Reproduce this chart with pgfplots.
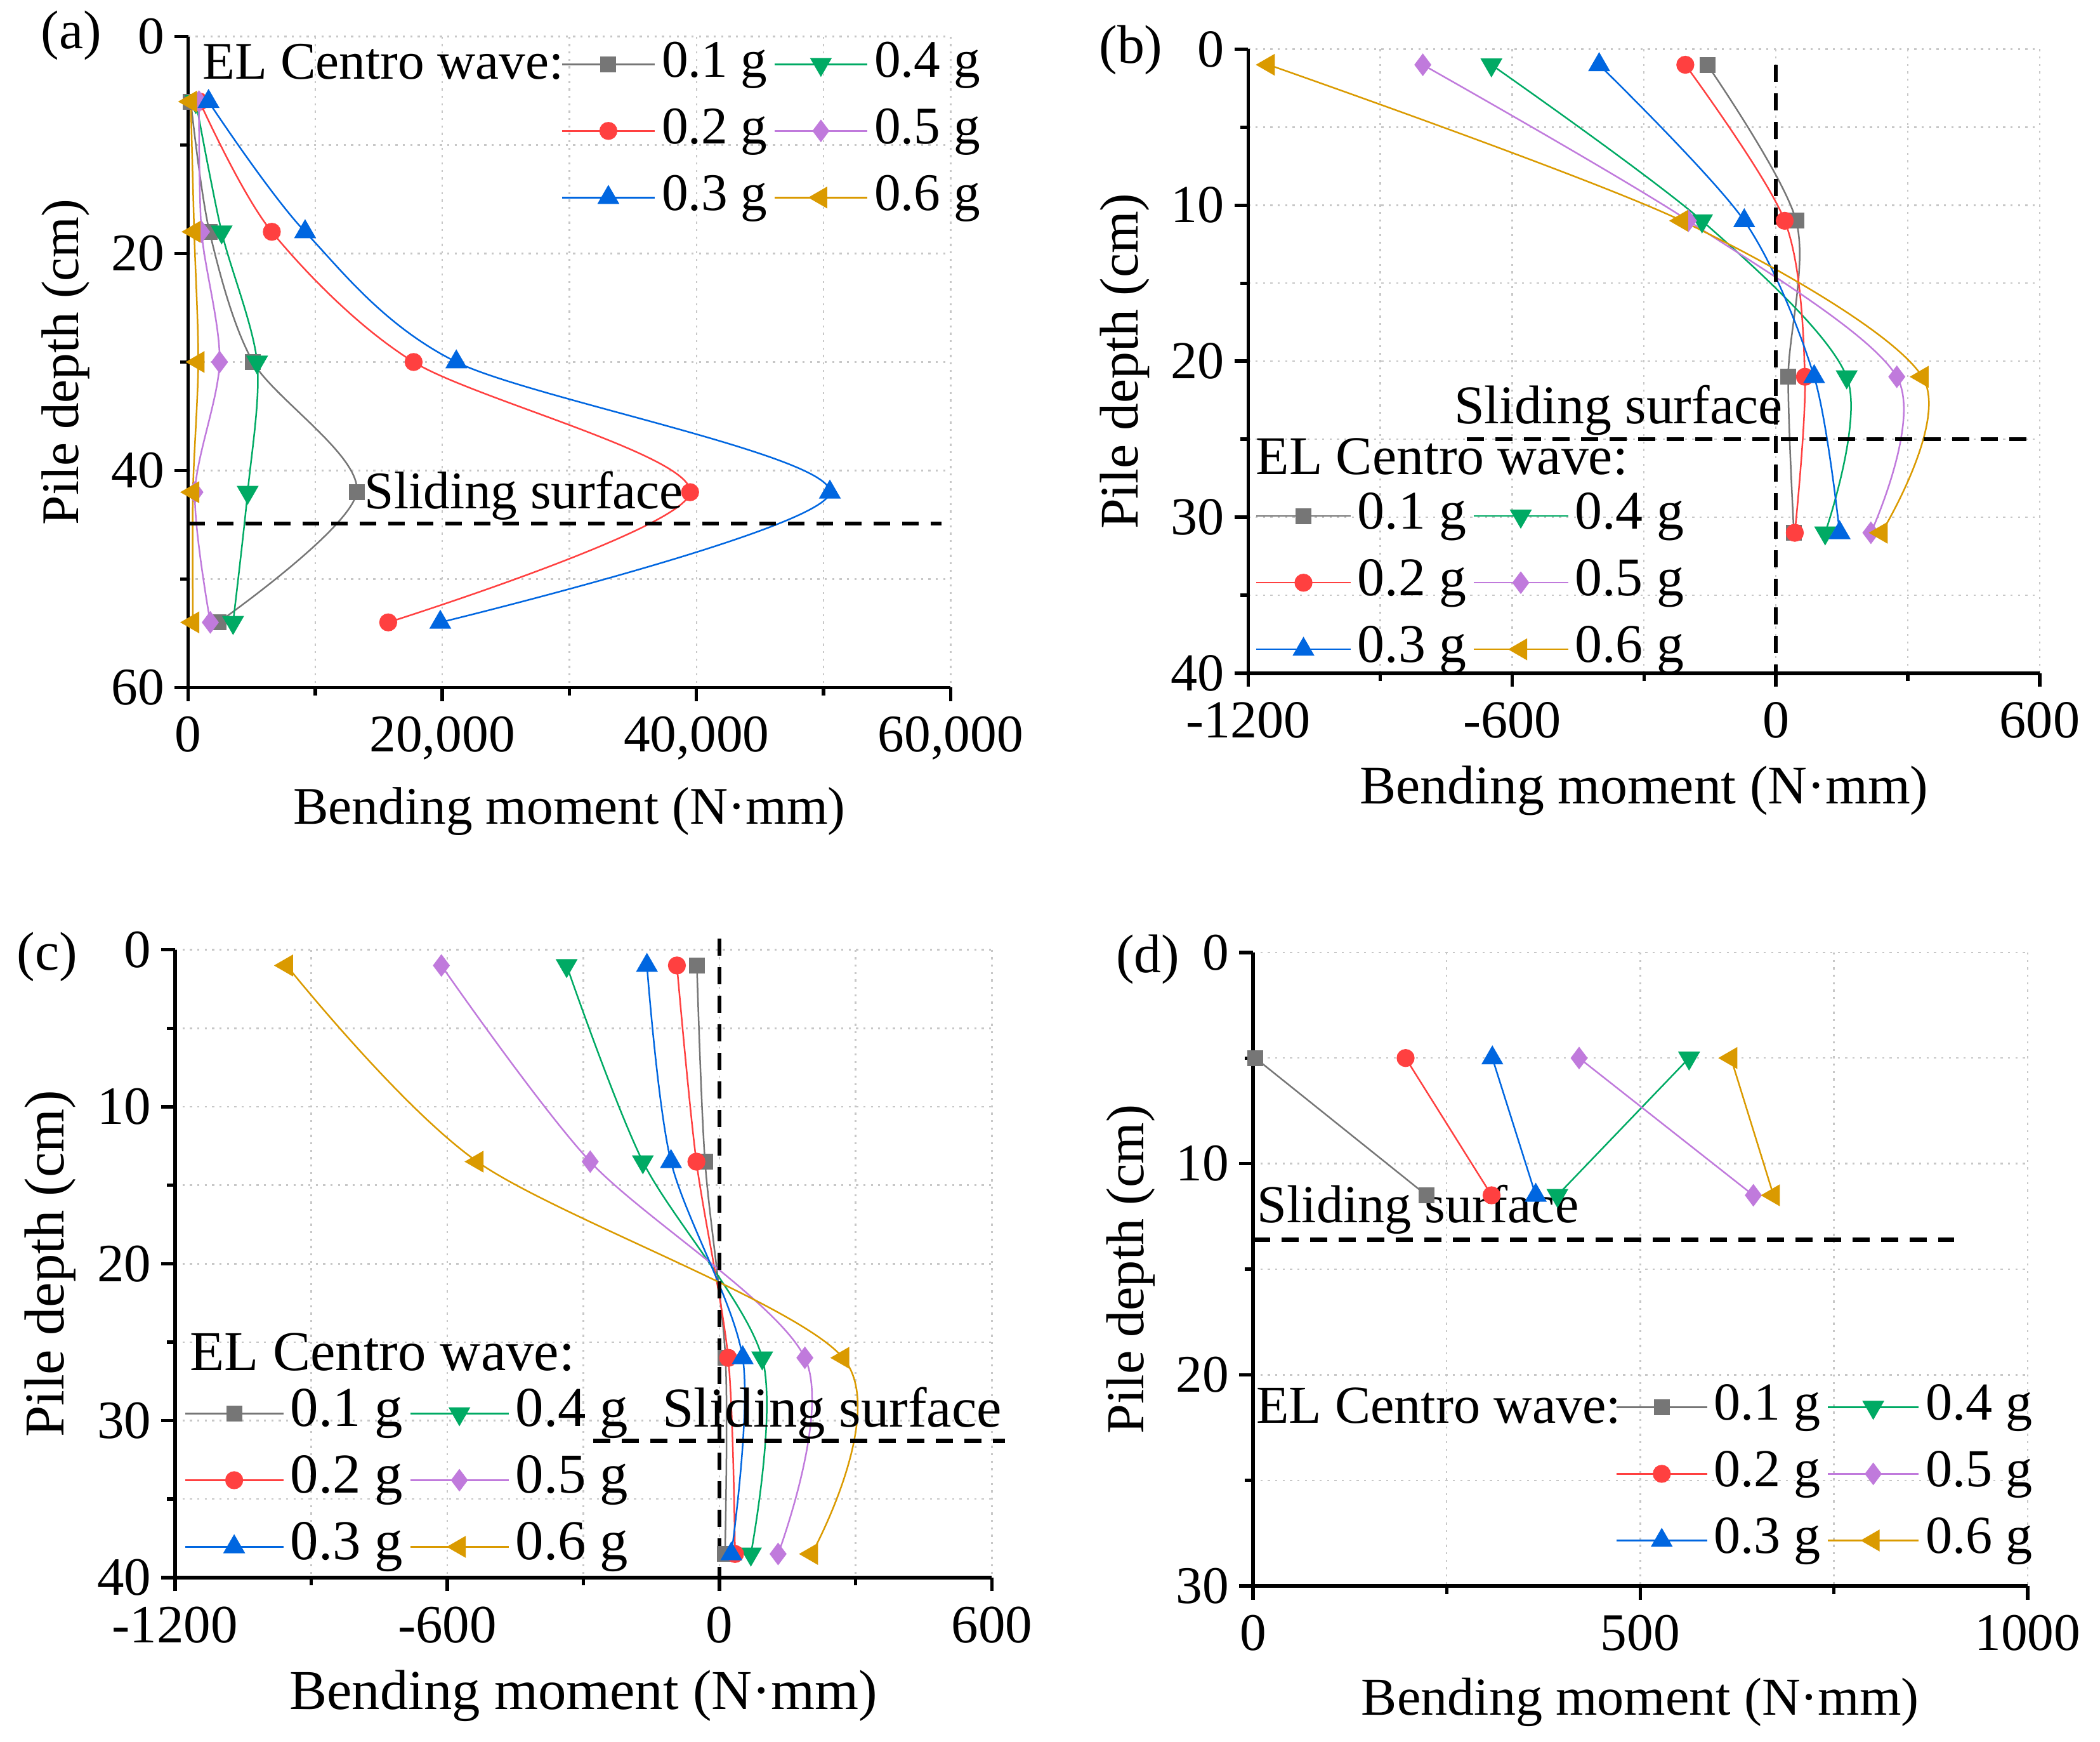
\documentclass[border=0pt]{standalone}
\usepackage{fontspec}
\setmainfont{Liberation Serif}
\usepackage{pgfplots}
\pgfplotsset{compat=1.18}
\definecolor{cA}{RGB}{118,118,118}
\definecolor{cB}{RGB}{255,64,64}
\definecolor{cC}{RGB}{0,102,224}
\definecolor{cD}{RGB}{0,170,100}
\definecolor{cE}{RGB}{192,122,220}
\definecolor{cF}{RGB}{218,154,0}
\def\fs{\fontsize{10}{12}\selectfont}
\def\tfs{\fontsize{10}{12}\selectfont}
\def\ll{17.5pt}
\pgfplotsset{
  panel/.style={
    scale only axis, y dir=reverse,
    axis x line=bottom, axis y line=left,
    axis line style={line width=0.65pt,-},
    tick align=outside,
    major tick length=2.6pt, minor tick length=1.5pt,
    every tick/.style={line width=0.65pt, black},
    grid=both,
    major grid style={densely dotted, line width=0.3pt, black!22},
    minor grid style={densely dotted, line width=0.3pt, black!22},
    /pgf/number format/assume math mode=true,
    tick label style={font=\tfs},
    xticklabel style={yshift=0.6pt},
    yticklabel style={xshift=1.6pt},
    label style={font=\fs},
    xlabel shift=-1.7pt,
    ylabel shift=-2.8pt,
    xlabel={Bending moment (N·mm)},
    ylabel={Pile depth (cm)},
    clip=false,
    legend columns=2,
    legend cell align=left,
    legend style={draw=none, fill=none, inner sep=0pt, row sep=2.4pt,
      font=\fs,
      nodes={inner xsep=1.2pt, inner ysep=0.5pt, text height=7pt, text depth=2.2pt}},
    legend image code/.code={\draw[mark repeat=2,mark phase=2,##1] plot coordinates {(0pt,0pt) (0.5*\ll,0pt) (\ll,0pt)};},
  },
  sA/.style={color=cA, line width=0.3pt, mark=square*, mark size=1.35pt, mark options={solid}},
  sB/.style={color=cB, line width=0.3pt, mark=*, mark size=1.55pt, mark options={solid}},
  sC/.style={color=cC, line width=0.3pt, mark=triangle*, mark size=2.1pt, mark options={solid}},
  sD/.style={color=cD, line width=0.3pt, mark=triangle*, mark size=2.1pt, mark options={solid, rotate=180}},
  sE/.style={color=cE, line width=0.3pt, mark=diamond*, mark size=1.9pt, mark options={solid}},
  sF/.style={color=cF, line width=0.3pt, mark=triangle*, mark size=2.1pt, mark options={solid, rotate=90}},
  slide/.style={black, line width=0.8pt, dash pattern=on 3.2pt off 2.2pt, forget plot},
}
\begin{document}
\begin{tikzpicture}
\useasboundingbox (0,0) rectangle (397.2pt,329.3pt);
% ---------------- (a)
\begin{axis}[panel, at={(35.6pt,199.3pt)}, anchor=south west,
  width=144.2pt, height=123.1pt,
  xmin=0, xmax=60000, ymin=0, ymax=60,
  xtick={0,20000,40000,60000}, minor xtick={10000,30000,50000},
  ytick={0,20,40,60}, minor ytick={10,30,50},
  scaled x ticks=false,
  xticklabel style={/pgf/number format/1000 sep={,}},
  legend style={at={(axis description cs:0.488,0.855)}, anchor=west}]
\addplot[sA, smooth] coordinates {(200,6) (1680,18) (5100,30) (13260,42) (2370,54)};
\addlegendentry{0.1 g}
\addplot[sD, smooth] coordinates {(600,6) (2630,18) (5420,30) (4680,42) (3530,54)};
\addlegendentry{0.4 g}
\addplot[sB, smooth] coordinates {(900,6) (6580,18) (17740,30) (39500,42) (15740,54)};
\addlegendentry{0.2 g}
\addplot[sE, smooth] coordinates {(850,6) (1050,18) (2470,30) (530,42) (1740,54)};
\addlegendentry{0.5 g}
\addplot[sC, smooth] coordinates {(1600,6) (9200,18) (21100,30) (50500,42) (19840,54)};
\addlegendentry{0.3 g}
\addplot[sF, smooth] coordinates {(200,6) (470,18) (790,30) (370,42) (370,54)};
\addlegendentry{0.6 g}
\addplot[slide] coordinates {(0,44.9) (59300,44.9)};
\node[anchor=base west, inner sep=0pt, font=\fs] at (axis cs:13800,43.5) {Sliding surface};
\node[anchor=base west, inner sep=0pt, font=\fs] at (axis cs:1050,3.9) {EL Centro wave:};
\end{axis}
% ---------------- (b)
\def\fs{\fontsize{10.3}{12}\selectfont}
\def\tfs{\fontsize{10.1}{12}\selectfont}
\def\ll{17.8pt}
\begin{axis}[panel, at={(236.1pt,202.0pt)}, anchor=south west,
  width=149.7pt, height=118.0pt,
  xmin=-1200, xmax=600, ymin=0, ymax=40,
  xtick={-1200,-600,0,600}, minor xtick={-900,-300,300},
  ytick={0,10,20,30,40}, minor ytick={5,15,25,35},
  xticklabel style={/pgf/number format/1000 sep={}},
  legend style={at={(axis description cs:0.008,0.145)}, anchor=west}]
\addplot[sA, smooth] coordinates {(-156,1) (46,11) (28,21) (41,31)};
\addlegendentry{0.1 g}
\addplot[sD, smooth] coordinates {(-647,1) (-168,11) (161,21) (112,31)};
\addlegendentry{0.4 g}
\addplot[sB, smooth] coordinates {(-206,1) (20,11) (66,21) (43,31)};
\addlegendentry{0.2 g}
\addplot[sE, smooth] coordinates {(-803,1) (-199,11) (275,21) (216,31)};
\addlegendentry{0.5 g}
\addplot[sC, smooth] coordinates {(-402,1) (-72,11) (87,21) (145,31)};
\addlegendentry{0.3 g}
\addplot[sF, smooth] coordinates {(-1154,1) (-214,11) (333,21) (240,31)};
\addlegendentry{0.6 g}
\addplot[slide] coordinates {(-703,25) (589,25)};
\addplot[slide] coordinates {(0,1) (0,40)};
\node[anchor=base west, inner sep=0pt, font=\fs] at (axis cs:-734,24.0) {Sliding surface};
\node[anchor=base west, inner sep=0pt, font=\fs] at (axis cs:-1185,27.25) {EL Centro wave:};
\end{axis}
% ---------------- (c)
\def\fs{\fontsize{10.65}{12}\selectfont}
\def\tfs{\fontsize{10.2}{12}\selectfont}
\def\ll{18.6pt}
\begin{axis}[panel, at={(33.1pt,31.0pt)}, anchor=south west,
  width=154.5pt, height=118.7pt,
  xmin=-1200, xmax=600, ymin=0, ymax=40,
  xtick={-1200,-600,0,600}, minor xtick={-900,-300,300},
  ytick={0,10,20,30,40}, minor ytick={5,15,25,35},
  xticklabel style={/pgf/number format/1000 sep={}},
  legend style={at={(axis description cs:0.01,0.155)}, anchor=west}]
\addplot[sA, smooth] coordinates {(-50,1) (-32,13.5) (13,26) (12,38.5)};
\addlegendentry{0.1 g}
\addplot[sD, smooth] coordinates {(-337,1) (-169,13.5) (94,26) (69,38.5)};
\addlegendentry{0.4 g}
\addplot[sB, smooth] coordinates {(-94,1) (-51,13.5) (19,26) (34,38.5)};
\addlegendentry{0.2 g}
\addplot[sE, smooth] coordinates {(-613,1) (-285,13.5) (188,26) (129,38.5)};
\addlegendentry{0.5 g}
\addplot[sC, smooth] coordinates {(-160,1) (-107,13.5) (51,26) (26,38.5)};
\addlegendentry{0.3 g}
\addplot[sF, smooth] coordinates {(-954,1) (-534,13.5) (272,26) (203,38.5)};
\addlegendentry{0.6 g}
\addplot[slide] coordinates {(-278,31.3) (629,31.3)};
\addplot[slide] coordinates {(0,-0.7) (0,40)};
\node[anchor=base west, inner sep=0pt, font=\fs] at (axis cs:-128,30.4) {Sliding surface};
\node[anchor=base west, inner sep=0pt, font=\fs] at (axis cs:-1169,26.8) {EL Centro wave:};
\end{axis}
% ---------------- (d)
\def\fs{\fontsize{10.1}{12}\selectfont}
\def\tfs{\fontsize{10}{12}\selectfont}
\def\ll{17.1pt}
\begin{axis}[panel, at={(237.0pt,29.4pt)}, anchor=south west,
  width=146.5pt, height=119.8pt,
  xmin=0, xmax=1000, ymin=0, ymax=30,
  xtick={0,500,1000}, minor xtick={250,750},
  ytick={0,10,20,30}, minor ytick={5,15,25},
  xticklabel style={/pgf/number format/1000 sep={}},
  legend style={at={(axis description cs:0.467,0.177)}, anchor=west}]
\addplot[sA] coordinates {(3,5) (224,11.5)};
\addlegendentry{0.1 g}
\addplot[sD] coordinates {(563,5) (393,11.5)};
\addlegendentry{0.4 g}
\addplot[sB] coordinates {(197,5) (308,11.5)};
\addlegendentry{0.2 g}
\addplot[sE] coordinates {(421,5) (646,11.5)};
\addlegendentry{0.5 g}
\addplot[sC] coordinates {(309,5) (365,11.5)};
\addlegendentry{0.3 g}
\addplot[sF] coordinates {(617,5) (672,11.5)};
\addlegendentry{0.6 g}
\addplot[slide] coordinates {(0,13.6) (905,13.6)};
\node[anchor=base west, inner sep=0pt, font=\fs] at (axis cs:4,12.8) {Sliding surface};
\node[anchor=base west, inner sep=0pt, font=\fs] at (axis cs:3,22.3) {EL Centro wave:};
\end{axis}
\node[font=\fontsize{10.3}{12}\selectfont] at (13.5pt,322.6pt) {(a)};
\node[font=\fontsize{10.3}{12}\selectfont] at (213.9pt,319.8pt) {(b)};
\node[font=\fontsize{10.3}{12}\selectfont] at (8.9pt,148.4pt) {(c)};
\node[font=\fontsize{10.3}{12}\selectfont] at (217.1pt,147.9pt) {(d)};
\end{tikzpicture}
\end{document}
